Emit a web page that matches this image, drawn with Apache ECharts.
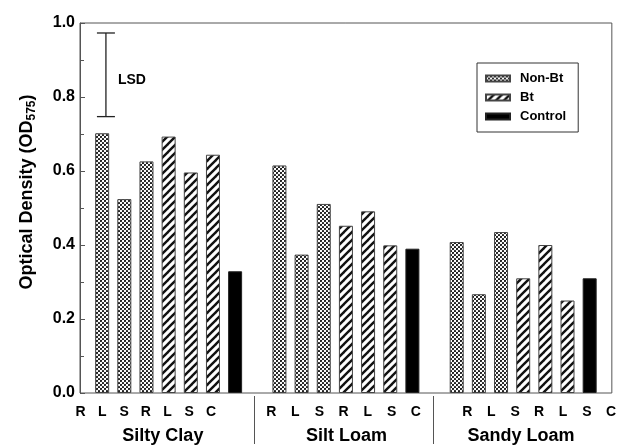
<!DOCTYPE html>
<html>
<head>
<meta charset="utf-8">
<script src="https://cdn.jsdelivr.net/npm/echarts@6/dist/echarts.min.js"></script>
<style>
  html, body { margin: 0; padding: 0; background: #fff; }
  #chart { width: 619px; height: 445px; }
</style>
</head>
<body>
<div id="chart"></div>
<script>
// ---- data ----
const soils = ['Silty Clay', 'Silt Loam', 'Sandy Loam'];
const tickLabels = ['R', 'L', 'S', 'R', 'L', 'S', 'C'];
const seriesNames = ['Non-Bt', 'Bt', 'Control'];
// optical density per soil: root, leaf, stem
const nonBt = [
  [0.702, 0.524, 0.626],
  [0.615, 0.374, 0.511],
  [0.408, 0.267, 0.435]
];
const bt = [
  [0.693, 0.596, 0.644],
  [0.452, 0.491, 0.399],
  [0.310, 0.400, 0.250]
];
const control = [0.329, 0.390, 0.310];
const lsdRange = [0.747, 0.973];
const yTicks = [0, 0.2, 0.4, 0.6, 0.8, 1.0];

// ---- layout (axis units along the x axis, 0..24) ----
const SLOTS = 24;
const labelStart = [0.03, 8.63, 17.48];
const labelStep = [0.98, 1.088, 1.08];
const soilCenters = [3.74, 12.03, 19.9];
const dividers = [7.88, 15.96];
const lsdPos = 1.17;

const FONT = '"Liberation Sans", Arial, Helvetica, sans-serif';

// ---- fill patterns ----
function dotPattern() {
  const c = document.createElement('canvas');
  c.width = 4; c.height = 4;
  const g = c.getContext('2d');
  g.fillStyle = '#fff';
  g.fillRect(0, 0, 4, 4);
  g.fillStyle = '#111';
  [[1, 1], [3, 3], [3, -1], [-1, 3], [5, 3], [3, 5]].forEach(([x, y]) => {
    g.beginPath();
    g.arc(x, y, 1.1, 0, Math.PI * 2);
    g.fill();
  });
  return { image: c, repeat: 'repeat' };
}
function hatchPattern() {
  const c = document.createElement('canvas');
  c.width = 8; c.height = 8;
  const g = c.getContext('2d');
  g.fillStyle = '#fff';
  g.fillRect(0, 0, 8, 8);
  g.strokeStyle = '#111';
  g.lineWidth = 2.4;
  [[0, 8, 8, 0], [-4, 4, 4, -4], [4, 12, 12, 4]].forEach(([a, b, c2, d]) => {
    g.beginPath();
    g.moveTo(a, b);
    g.lineTo(c2, d);
    g.stroke();
  });
  return { image: c, repeat: 'repeat' };
}

// ---- build bar slots ----
const slotNames = [];
for (let i = 0; i <= SLOTS; i++) slotNames.push(String(i));
const nonBtData = new Array(SLOTS + 1).fill('-');
const btData = new Array(SLOTS + 1).fill('-');
const ctrlData = new Array(SLOTS + 1).fill('-');
soils.forEach((s, si) => {
  const base = 1 + si * 8;
  nonBt[si].forEach((v, j) => { nonBtData[base + j] = v; });
  bt[si].forEach((v, j) => { btData[base + 3 + j] = v; });
  ctrlData[base + 6] = control[si];
});

// letter tick positions
const letterPos = [];
const letterText = [];
soils.forEach((s, si) => {
  tickLabels.forEach((t, j) => {
    letterPos.push(+(labelStart[si] + j * labelStep[si]).toFixed(3));
    letterText.push(t);
  });
});
function nearest(list, v) {
  let best = 0;
  list.forEach((p, i) => { if (Math.abs(p - v) < Math.abs(list[best] - v)) best = i; });
  return best;
}

const chart = echarts.init(document.getElementById('chart'), null, { renderer: 'canvas' });

const barCommon = {
  type: 'bar',
  xAxisIndex: 0,
  yAxisIndex: 0,
  barWidth: 14,
  barGap: '-100%',
  silent: true
};

chart.setOption({
  animation: false,
  backgroundColor: '#fff',
  grid: {
    left: 80, top: 23, right: 6, bottom: 51,
    show: true, borderColor: '#555', borderWidth: 1
  },
  legend: {
    data: seriesNames,
    orient: 'vertical',
    left: 477, top: 63,
    itemWidth: 24, itemHeight: 6, itemGap: 6,
    padding: [9, 12, 9, 8],
    borderColor: '#333', borderWidth: 1,
    icon: 'rect',
    textStyle: { fontFamily: FONT, fontWeight: 'bold', fontSize: 13, color: '#000', padding: [0, 0, 0, 5] }
  },
  xAxis: [
    {
      type: 'category', data: slotNames, boundaryGap: false, position: 'bottom',
      axisLine: { show: false }, axisTick: { show: false }, axisLabel: { show: false },
      splitLine: { show: false }
    },
    {
      type: 'value', min: 0, max: SLOTS, position: 'bottom',
      axisLine: { show: false }, axisTick: { show: false }, splitLine: { show: false },
      axisLabel: {
        customValues: letterPos,
        formatter: (v) => letterText[nearest(letterPos, v)],
        margin: 12,
        fontFamily: FONT, fontWeight: 'bold', fontSize: 14, color: '#000'
      }
    },
    {
      type: 'value', min: 0, max: SLOTS, position: 'bottom', offset: 3,
      axisLine: { show: false }, splitLine: { show: false },
      axisTick: {
        show: true, customValues: dividers, inside: false, length: 48,
        lineStyle: { color: '#555', width: 1 }
      },
      axisLabel: {
        customValues: soilCenters,
        formatter: (v) => soils[nearest(soilCenters, v)],
        margin: 31,
        fontFamily: FONT, fontWeight: 'bold', fontSize: 18, color: '#000'
      }
    }
  ],
  yAxis: {
    type: 'value', min: yTicks[0], max: yTicks[yTicks.length - 1], interval: 0.2,
    name: '{a|Optical Density (OD}{s|575}{a|)}',
    nameLocation: 'middle', nameGap: 42,
    nameTextStyle: {
      padding: [0, 0, 0, 32],
      rich: {
        a: { fontFamily: FONT, fontWeight: 'bold', fontSize: 18, lineHeight: 22, color: '#000' },
        s: { fontFamily: FONT, fontWeight: 'bold', fontSize: 12, lineHeight: 12, verticalAlign: 'bottom', color: '#000' }
      }
    },
    axisLine: { show: true, lineStyle: { color: '#555', width: 1 } },
    axisTick: { show: true, inside: true, length: 5, lineStyle: { color: '#555' } },
    minorTick: { show: true, splitNumber: 2, length: 4, lineStyle: { color: '#555' } },
    splitLine: { show: false },
    axisLabel: {
      formatter: (v) => v.toFixed(1),
      margin: 5,
      fontFamily: FONT, fontWeight: 'bold', fontSize: 16, color: '#000'
    }
  },
  series: [
    Object.assign({}, barCommon, {
      name: seriesNames[0], data: nonBtData,
      itemStyle: { color: dotPattern(), borderColor: '#444', borderWidth: 1 }
    }),
    Object.assign({}, barCommon, {
      name: seriesNames[1], data: btData,
      itemStyle: { color: hatchPattern(), borderColor: '#444', borderWidth: 1 }
    }),
    Object.assign({}, barCommon, {
      name: seriesNames[2], data: ctrlData,
      itemStyle: { color: '#000', borderColor: '#222', borderWidth: 1 }
    }),
    {
      type: 'custom', name: 'LSD', xAxisIndex: 1, yAxisIndex: 0, silent: true, z: 5,
      data: [[lsdPos, lsdRange[0], lsdRange[1]]],
      renderItem(params, api) {
        const lo = api.coord([api.value(0), api.value(1)]);
        const hi = api.coord([api.value(0), api.value(2)]);
        const cap = 9;
        const st = { stroke: '#222', lineWidth: 1.3 };
        return {
          type: 'group',
          children: [
            { type: 'line', shape: { x1: lo[0], y1: lo[1], x2: hi[0], y2: hi[1] }, style: st },
            { type: 'line', shape: { x1: lo[0] - cap, y1: lo[1], x2: lo[0] + cap, y2: lo[1] }, style: st },
            { type: 'line', shape: { x1: hi[0] - cap, y1: hi[1], x2: hi[0] + cap, y2: hi[1] }, style: st },
            {
              type: 'text', x: lo[0] + 12, y: (lo[1] + hi[1]) / 2 + 5,
              style: { text: 'LSD', fill: '#000', font: 'bold 14px ' + FONT, verticalAlign: 'middle' }
            }
          ]
        };
      }
    }
  ]
});
</script>
</body>
</html>
